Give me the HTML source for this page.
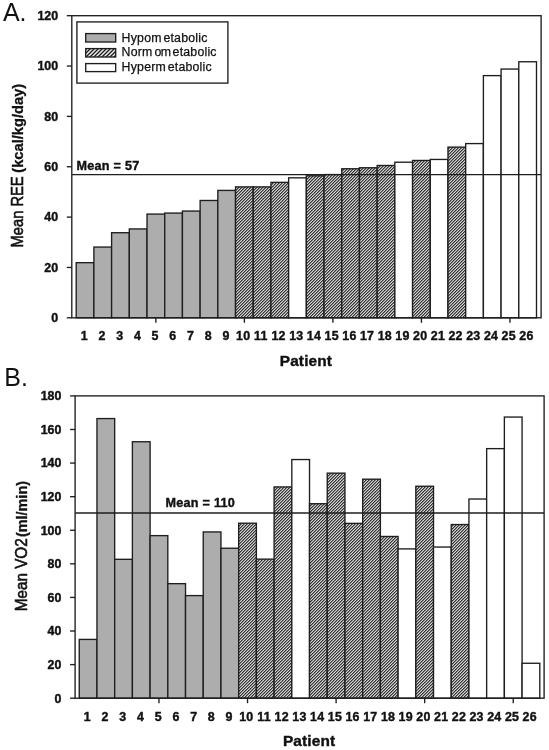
<!DOCTYPE html>
<html><head><meta charset="utf-8"><title>Figure</title>
<style>
html,body{margin:0;padding:0;background:#fff;}
svg{display:block}
text{font-family:"Liberation Sans",Arial,sans-serif;fill:#111}
.tk{font-size:12.4px;font-weight:bold;stroke:#111;stroke-width:0.4px}
.w{letter-spacing:0.25px}
.ml{font-size:12.6px;font-weight:bold;stroke:#111;stroke-width:0.4px;letter-spacing:0.25px}
.xl{font-size:15.4px;font-weight:bold;letter-spacing:0.15px;stroke:#111;stroke-width:0.4px}
.yl{font-size:16px;stroke:#111;stroke-width:0.6px}
.b{font-weight:bold;font-size:14.5px;stroke-width:0.3px}
.lt{font-size:25px}
.lg{font-size:12.3px;letter-spacing:0.22px;stroke:#111;stroke-width:0.25px}
</style></head><body>
<svg width="549" height="750" viewBox="0 0 549 750">
<defs>
<pattern id="hatch" width="3" height="3" patternUnits="userSpaceOnUse">
<rect width="3" height="3" fill="#e8e8e8"/>
<path d="M-1,1.25 L1.25,-1 M-1,4.25 L4.25,-1 M2,4.25 L4.25,2" stroke="#1c1c1c" stroke-width="1.06"/>
</pattern>
<pattern id="hatch2" width="4" height="4" patternUnits="userSpaceOnUse" patternTransform="translate(2 1)">
<rect width="4" height="4" fill="#ececec"/>
<path d="M-1,1 L1,-1 M-1,5 L5,-1 M3,5 L5,3" stroke="#1c1c1c" stroke-width="1.3"/>
</pattern>
</defs>
<rect width="549" height="750" fill="#fff"/>
<rect x="76.20" y="262.67" width="17.70" height="55.13" fill="#adadad" stroke="#1e1e1e" stroke-width="1.35"/>
<rect x="93.90" y="247.06" width="17.70" height="70.74" fill="#adadad" stroke="#1e1e1e" stroke-width="1.35"/>
<rect x="111.61" y="232.71" width="17.70" height="85.09" fill="#adadad" stroke="#1e1e1e" stroke-width="1.35"/>
<rect x="129.31" y="228.93" width="17.70" height="88.87" fill="#adadad" stroke="#1e1e1e" stroke-width="1.35"/>
<rect x="147.02" y="214.08" width="17.70" height="103.72" fill="#adadad" stroke="#1e1e1e" stroke-width="1.35"/>
<rect x="164.72" y="213.07" width="17.70" height="104.73" fill="#adadad" stroke="#1e1e1e" stroke-width="1.35"/>
<rect x="182.42" y="211.06" width="17.70" height="106.74" fill="#adadad" stroke="#1e1e1e" stroke-width="1.35"/>
<rect x="200.13" y="200.48" width="17.70" height="117.32" fill="#adadad" stroke="#1e1e1e" stroke-width="1.35"/>
<rect x="217.83" y="190.41" width="17.70" height="127.39" fill="#adadad" stroke="#1e1e1e" stroke-width="1.35"/>
<rect x="235.53" y="186.89" width="17.70" height="130.91" fill="url(#hatch)" stroke="#1e1e1e" stroke-width="1.35"/>
<rect x="253.24" y="186.89" width="17.70" height="130.91" fill="url(#hatch)" stroke="#1e1e1e" stroke-width="1.35"/>
<rect x="270.94" y="182.36" width="17.70" height="135.44" fill="url(#hatch)" stroke="#1e1e1e" stroke-width="1.35"/>
<rect x="288.65" y="177.83" width="17.70" height="139.97" fill="#ffffff" stroke="#1e1e1e" stroke-width="1.35"/>
<rect x="306.35" y="175.81" width="17.70" height="141.99" fill="url(#hatch)" stroke="#1e1e1e" stroke-width="1.35"/>
<rect x="324.05" y="174.55" width="17.70" height="143.25" fill="url(#hatch)" stroke="#1e1e1e" stroke-width="1.35"/>
<rect x="341.76" y="168.76" width="17.70" height="149.04" fill="url(#hatch)" stroke="#1e1e1e" stroke-width="1.35"/>
<rect x="359.46" y="167.76" width="17.70" height="150.04" fill="url(#hatch)" stroke="#1e1e1e" stroke-width="1.35"/>
<rect x="377.17" y="165.49" width="17.70" height="152.31" fill="url(#hatch)" stroke="#1e1e1e" stroke-width="1.35"/>
<rect x="394.87" y="162.22" width="17.70" height="155.58" fill="#ffffff" stroke="#1e1e1e" stroke-width="1.35"/>
<rect x="412.57" y="160.46" width="17.70" height="157.34" fill="url(#hatch)" stroke="#1e1e1e" stroke-width="1.35"/>
<rect x="430.28" y="159.45" width="17.70" height="158.35" fill="#ffffff" stroke="#1e1e1e" stroke-width="1.35"/>
<rect x="447.98" y="147.11" width="17.70" height="170.69" fill="url(#hatch)" stroke="#1e1e1e" stroke-width="1.35"/>
<rect x="465.68" y="143.59" width="17.70" height="174.21" fill="#ffffff" stroke="#1e1e1e" stroke-width="1.35"/>
<rect x="483.39" y="75.62" width="17.70" height="242.18" fill="#ffffff" stroke="#1e1e1e" stroke-width="1.35"/>
<rect x="501.09" y="69.07" width="17.70" height="248.73" fill="#ffffff" stroke="#1e1e1e" stroke-width="1.35"/>
<rect x="518.80" y="61.77" width="17.70" height="256.03" fill="#ffffff" stroke="#1e1e1e" stroke-width="1.35"/>
<line x1="71.8" x2="541.1" y1="174.55" y2="174.55" stroke="#1e1e1e" stroke-width="1.35"/>
<rect x="71.8" y="15.7" width="469.30" height="302.10" fill="none" stroke="#1e1e1e" stroke-width="1.35"/>
<line x1="66.8" x2="71.8" y1="317.80" y2="317.80" stroke="#1e1e1e" stroke-width="1.35"/>
<text class="tk" x="58.10" y="322.10" text-anchor="end">0</text>
<line x1="66.8" x2="71.8" y1="267.45" y2="267.45" stroke="#1e1e1e" stroke-width="1.35"/>
<text class="tk" x="58.10" y="271.75" text-anchor="end">20</text>
<line x1="66.8" x2="71.8" y1="217.10" y2="217.10" stroke="#1e1e1e" stroke-width="1.35"/>
<text class="tk" x="58.10" y="221.40" text-anchor="end">40</text>
<line x1="66.8" x2="71.8" y1="166.75" y2="166.75" stroke="#1e1e1e" stroke-width="1.35"/>
<text class="tk" x="58.10" y="171.05" text-anchor="end">60</text>
<line x1="66.8" x2="71.8" y1="116.40" y2="116.40" stroke="#1e1e1e" stroke-width="1.35"/>
<text class="tk" x="58.10" y="120.70" text-anchor="end">80</text>
<line x1="66.8" x2="71.8" y1="66.05" y2="66.05" stroke="#1e1e1e" stroke-width="1.35"/>
<text class="tk" x="58.10" y="70.35" text-anchor="end">100</text>
<line x1="66.8" x2="71.8" y1="15.70" y2="15.70" stroke="#1e1e1e" stroke-width="1.35"/>
<text class="tk" x="58.10" y="20.00" text-anchor="end">120</text>
<text class="tk" x="84.25" y="340.10" text-anchor="middle">1</text>
<text class="tk" x="101.96" y="340.10" text-anchor="middle">2</text>
<text class="tk" x="119.66" y="340.10" text-anchor="middle">3</text>
<text class="tk" x="137.36" y="340.10" text-anchor="middle">4</text>
<line x1="155.87" x2="155.87" y1="317.8" y2="322.8" stroke="#1e1e1e" stroke-width="1.35"/>
<text class="tk" x="155.07" y="340.10" text-anchor="middle">5</text>
<text class="tk" x="172.77" y="340.10" text-anchor="middle">6</text>
<text class="tk" x="190.47" y="340.10" text-anchor="middle">7</text>
<text class="tk" x="208.18" y="340.10" text-anchor="middle">8</text>
<text class="tk" x="225.88" y="340.10" text-anchor="middle">9</text>
<line x1="244.39" x2="244.39" y1="317.8" y2="322.8" stroke="#1e1e1e" stroke-width="1.35"/>
<text class="tk w" x="243.19" y="340.10" text-anchor="middle">10</text>
<text class="tk w" x="260.89" y="340.10" text-anchor="middle">11</text>
<text class="tk w" x="278.59" y="340.10" text-anchor="middle">12</text>
<text class="tk w" x="296.30" y="340.10" text-anchor="middle">13</text>
<text class="tk w" x="314.00" y="340.10" text-anchor="middle">14</text>
<line x1="332.91" x2="332.91" y1="317.8" y2="322.8" stroke="#1e1e1e" stroke-width="1.35"/>
<text class="tk w" x="331.71" y="340.10" text-anchor="middle">15</text>
<text class="tk w" x="349.41" y="340.10" text-anchor="middle">16</text>
<text class="tk w" x="367.11" y="340.10" text-anchor="middle">17</text>
<text class="tk w" x="384.82" y="340.10" text-anchor="middle">18</text>
<text class="tk w" x="402.52" y="340.10" text-anchor="middle">19</text>
<line x1="421.43" x2="421.43" y1="317.8" y2="322.8" stroke="#1e1e1e" stroke-width="1.35"/>
<text class="tk w" x="420.23" y="340.10" text-anchor="middle">20</text>
<text class="tk w" x="437.93" y="340.10" text-anchor="middle">21</text>
<text class="tk w" x="455.63" y="340.10" text-anchor="middle">22</text>
<text class="tk w" x="473.34" y="340.10" text-anchor="middle">23</text>
<text class="tk w" x="491.04" y="340.10" text-anchor="middle">24</text>
<line x1="509.94" x2="509.94" y1="317.8" y2="322.8" stroke="#1e1e1e" stroke-width="1.35"/>
<text class="tk w" x="508.74" y="340.10" text-anchor="middle">25</text>
<text class="tk w" x="526.45" y="340.10" text-anchor="middle">26</text>
<text class="ml" x="76.60" y="169.75">Mean = 57</text>
<text class="xl" x="305.95" y="365.90" text-anchor="middle">Patient</text>
<text class="yl" transform="translate(23.30,247.50) rotate(-90)" textLength="71.2" lengthAdjust="spacingAndGlyphs">Mean REE</text>
<text class="yl b" transform="translate(23.30,172.70) rotate(-90)" textLength="88.9" lengthAdjust="spacingAndGlyphs">(kcal/kg/day)</text>
<text class="lt" x="2.9" y="21.0">A.</text>

<rect x="76.9" y="21.9" width="151" height="61.2" fill="#fff" stroke="#1e1e1e" stroke-width="1.35"/>
<rect x="85.7" y="33.6" width="30" height="8.4" fill="#adadad" stroke="#1e1e1e" stroke-width="1.35"/>
<rect x="85.7" y="48.6" width="30" height="8.4" fill="url(#hatch2)" stroke="#1e1e1e" stroke-width="1.35"/>
<rect x="85.7" y="63.6" width="30" height="8.0" fill="#fff" stroke="#1e1e1e" stroke-width="1.35"/>
<text class="lg" x="121.6" y="42" dx="0 0 0 0 0 1.7">Hypometabolic</text>
<text class="lg" x="121.6" y="56.4" dx="0 0 0 0 2 -1 1.5">Normometabolic</text>
<text class="lg" x="121.6" y="70.8" dx="0 0 0 0 0 0 1.7">Hypermetabolic</text>

<rect x="79.25" y="639.42" width="17.71" height="58.78" fill="#adadad" stroke="#1e1e1e" stroke-width="1.35"/>
<rect x="96.96" y="418.57" width="17.71" height="279.63" fill="#adadad" stroke="#1e1e1e" stroke-width="1.35"/>
<rect x="114.68" y="559.31" width="17.71" height="138.89" fill="#adadad" stroke="#1e1e1e" stroke-width="1.35"/>
<rect x="132.39" y="441.75" width="17.71" height="256.45" fill="#adadad" stroke="#1e1e1e" stroke-width="1.35"/>
<rect x="150.10" y="535.63" width="17.71" height="162.57" fill="#adadad" stroke="#1e1e1e" stroke-width="1.35"/>
<rect x="167.82" y="583.66" width="17.71" height="114.54" fill="#adadad" stroke="#1e1e1e" stroke-width="1.35"/>
<rect x="185.53" y="595.59" width="17.71" height="102.61" fill="#adadad" stroke="#1e1e1e" stroke-width="1.35"/>
<rect x="203.24" y="531.93" width="17.71" height="166.27" fill="#adadad" stroke="#1e1e1e" stroke-width="1.35"/>
<rect x="220.96" y="548.23" width="17.71" height="149.97" fill="#adadad" stroke="#1e1e1e" stroke-width="1.35"/>
<rect x="238.67" y="523.20" width="17.71" height="175.00" fill="url(#hatch)" stroke="#1e1e1e" stroke-width="1.35"/>
<rect x="256.38" y="559.14" width="17.71" height="139.06" fill="url(#hatch)" stroke="#1e1e1e" stroke-width="1.35"/>
<rect x="274.10" y="486.93" width="17.71" height="211.27" fill="url(#hatch)" stroke="#1e1e1e" stroke-width="1.35"/>
<rect x="291.81" y="459.55" width="17.71" height="238.65" fill="#ffffff" stroke="#1e1e1e" stroke-width="1.35"/>
<rect x="309.52" y="503.72" width="17.71" height="194.48" fill="url(#hatch)" stroke="#1e1e1e" stroke-width="1.35"/>
<rect x="327.24" y="473.15" width="17.71" height="225.05" fill="url(#hatch)" stroke="#1e1e1e" stroke-width="1.35"/>
<rect x="344.95" y="523.37" width="17.71" height="174.83" fill="url(#hatch)" stroke="#1e1e1e" stroke-width="1.35"/>
<rect x="362.67" y="479.20" width="17.71" height="219.00" fill="url(#hatch)" stroke="#1e1e1e" stroke-width="1.35"/>
<rect x="380.38" y="536.47" width="17.71" height="161.73" fill="url(#hatch)" stroke="#1e1e1e" stroke-width="1.35"/>
<rect x="398.09" y="548.90" width="17.71" height="149.30" fill="#ffffff" stroke="#1e1e1e" stroke-width="1.35"/>
<rect x="415.81" y="486.25" width="17.71" height="211.95" fill="url(#hatch)" stroke="#1e1e1e" stroke-width="1.35"/>
<rect x="433.52" y="547.05" width="17.71" height="151.15" fill="#ffffff" stroke="#1e1e1e" stroke-width="1.35"/>
<rect x="451.23" y="524.55" width="17.71" height="173.65" fill="url(#hatch)" stroke="#1e1e1e" stroke-width="1.35"/>
<rect x="468.95" y="499.02" width="17.71" height="199.18" fill="#ffffff" stroke="#1e1e1e" stroke-width="1.35"/>
<rect x="486.66" y="448.63" width="17.71" height="249.57" fill="#ffffff" stroke="#1e1e1e" stroke-width="1.35"/>
<rect x="504.37" y="417.06" width="17.71" height="281.14" fill="#ffffff" stroke="#1e1e1e" stroke-width="1.35"/>
<rect x="522.09" y="663.27" width="17.71" height="34.93" fill="#ffffff" stroke="#1e1e1e" stroke-width="1.35"/>
<line x1="75.1" x2="544.1" y1="512.96" y2="512.96" stroke="#1e1e1e" stroke-width="1.35"/>
<rect x="75.1" y="395.9" width="469.00" height="302.30" fill="none" stroke="#1e1e1e" stroke-width="1.35"/>
<line x1="70.1" x2="75.1" y1="698.20" y2="698.20" stroke="#1e1e1e" stroke-width="1.35"/>
<text class="tk" x="61.40" y="702.50" text-anchor="end">0</text>
<line x1="70.1" x2="75.1" y1="664.61" y2="664.61" stroke="#1e1e1e" stroke-width="1.35"/>
<text class="tk" x="61.40" y="668.91" text-anchor="end">20</text>
<line x1="70.1" x2="75.1" y1="631.02" y2="631.02" stroke="#1e1e1e" stroke-width="1.35"/>
<text class="tk" x="61.40" y="635.32" text-anchor="end">40</text>
<line x1="70.1" x2="75.1" y1="597.43" y2="597.43" stroke="#1e1e1e" stroke-width="1.35"/>
<text class="tk" x="61.40" y="601.73" text-anchor="end">60</text>
<line x1="70.1" x2="75.1" y1="563.84" y2="563.84" stroke="#1e1e1e" stroke-width="1.35"/>
<text class="tk" x="61.40" y="568.14" text-anchor="end">80</text>
<line x1="70.1" x2="75.1" y1="530.26" y2="530.26" stroke="#1e1e1e" stroke-width="1.35"/>
<text class="tk" x="61.40" y="534.56" text-anchor="end">100</text>
<line x1="70.1" x2="75.1" y1="496.67" y2="496.67" stroke="#1e1e1e" stroke-width="1.35"/>
<text class="tk" x="61.40" y="500.97" text-anchor="end">120</text>
<line x1="70.1" x2="75.1" y1="463.08" y2="463.08" stroke="#1e1e1e" stroke-width="1.35"/>
<text class="tk" x="61.40" y="467.38" text-anchor="end">140</text>
<line x1="70.1" x2="75.1" y1="429.49" y2="429.49" stroke="#1e1e1e" stroke-width="1.35"/>
<text class="tk" x="61.40" y="433.79" text-anchor="end">160</text>
<line x1="70.1" x2="75.1" y1="395.90" y2="395.90" stroke="#1e1e1e" stroke-width="1.35"/>
<text class="tk" x="61.40" y="400.20" text-anchor="end">180</text>
<text class="tk" x="87.31" y="720.50" text-anchor="middle">1</text>
<text class="tk" x="105.02" y="720.50" text-anchor="middle">2</text>
<text class="tk" x="122.73" y="720.50" text-anchor="middle">3</text>
<text class="tk" x="140.45" y="720.50" text-anchor="middle">4</text>
<line x1="158.96" x2="158.96" y1="698.2" y2="703.2" stroke="#1e1e1e" stroke-width="1.35"/>
<text class="tk" x="158.16" y="720.50" text-anchor="middle">5</text>
<text class="tk" x="175.87" y="720.50" text-anchor="middle">6</text>
<text class="tk" x="193.59" y="720.50" text-anchor="middle">7</text>
<text class="tk" x="211.30" y="720.50" text-anchor="middle">8</text>
<text class="tk" x="229.01" y="720.50" text-anchor="middle">9</text>
<line x1="247.53" x2="247.53" y1="698.2" y2="703.2" stroke="#1e1e1e" stroke-width="1.35"/>
<text class="tk w" x="246.33" y="720.50" text-anchor="middle">10</text>
<text class="tk w" x="264.04" y="720.50" text-anchor="middle">11</text>
<text class="tk w" x="281.75" y="720.50" text-anchor="middle">12</text>
<text class="tk w" x="299.47" y="720.50" text-anchor="middle">13</text>
<text class="tk w" x="317.18" y="720.50" text-anchor="middle">14</text>
<line x1="336.10" x2="336.10" y1="698.2" y2="703.2" stroke="#1e1e1e" stroke-width="1.35"/>
<text class="tk w" x="334.90" y="720.50" text-anchor="middle">15</text>
<text class="tk w" x="352.61" y="720.50" text-anchor="middle">16</text>
<text class="tk w" x="370.32" y="720.50" text-anchor="middle">17</text>
<text class="tk w" x="388.04" y="720.50" text-anchor="middle">18</text>
<text class="tk w" x="405.75" y="720.50" text-anchor="middle">19</text>
<line x1="424.66" x2="424.66" y1="698.2" y2="703.2" stroke="#1e1e1e" stroke-width="1.35"/>
<text class="tk w" x="423.46" y="720.50" text-anchor="middle">20</text>
<text class="tk w" x="441.18" y="720.50" text-anchor="middle">21</text>
<text class="tk w" x="458.89" y="720.50" text-anchor="middle">22</text>
<text class="tk w" x="476.60" y="720.50" text-anchor="middle">23</text>
<text class="tk w" x="494.32" y="720.50" text-anchor="middle">24</text>
<line x1="513.23" x2="513.23" y1="698.2" y2="703.2" stroke="#1e1e1e" stroke-width="1.35"/>
<text class="tk w" x="512.03" y="720.50" text-anchor="middle">25</text>
<text class="tk w" x="529.74" y="720.50" text-anchor="middle">26</text>
<text class="ml" x="165.60" y="507.46">Mean = 110</text>
<text class="xl" x="309.10" y="746.30" text-anchor="middle">Patient</text>
<text class="yl" transform="translate(26.50,611.20) rotate(-90)" textLength="72.8" lengthAdjust="spacingAndGlyphs">Mean VO2</text>
<text class="yl b" transform="translate(26.50,537.10) rotate(-90)" textLength="56.1" lengthAdjust="spacingAndGlyphs">(ml/min)</text>
<text class="lt" x="4.3" y="386.0">B.</text>
</svg>
</body></html>
